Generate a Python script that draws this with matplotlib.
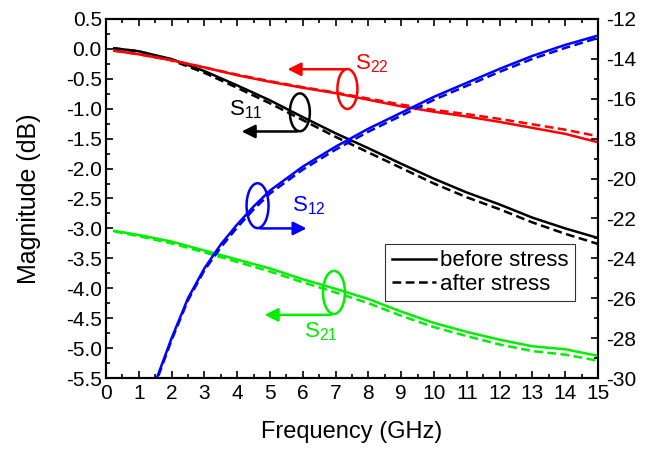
import matplotlib
matplotlib.use('Agg')
import matplotlib.pyplot as plt
from matplotlib.patches import Ellipse
from matplotlib.ticker import MultipleLocator, FormatStrFormatter

plt.rcParams['font.family'] = ['Liberation Sans', 'DejaVu Sans']
plt.rcParams['mathtext.fontset'] = 'custom'
plt.rcParams['mathtext.rm'] = 'Liberation Sans'
plt.rcParams['axes.unicode_minus'] = False

freq = [0.25, 1, 2, 3, 4, 5, 6, 7, 8, 9, 10, 11, 12, 13, 14, 15]
s11_before = [0.01, -0.04, -0.17, -0.37, -0.61, -0.86, -1.14, -1.41, -1.66, -1.92, -2.17, -2.40, -2.60, -2.82, -3.00, -3.16]
s11_after = [0.01, -0.04, -0.19, -0.40, -0.65, -0.91, -1.19, -1.47, -1.73, -1.99, -2.25, -2.48, -2.68, -2.90, -3.09, -3.26]
s22_before = [-0.03, -0.09, -0.19, -0.31, -0.44, -0.55, -0.65, -0.74, -0.85, -0.96, -1.05, -1.13, -1.22, -1.32, -1.42, -1.56]
s22_after = [-0.03, -0.09, -0.19, -0.31, -0.43, -0.54, -0.64, -0.73, -0.83, -0.93, -1.02, -1.09, -1.17, -1.26, -1.35, -1.46]
s21_before = [-3.04, -3.11, -3.22, -3.37, -3.52, -3.67, -3.85, -4.01, -4.18, -4.39, -4.58, -4.73, -4.86, -4.97, -5.02, -5.13]
s21_after = [-3.05, -3.13, -3.25, -3.40, -3.56, -3.72, -3.90, -4.07, -4.25, -4.46, -4.65, -4.80, -4.94, -5.05, -5.11, -5.21]

# S12 is on the right axis
freq_b = [1.45, 1.55, 2, 2.5, 3, 3.5, 4, 4.5, 5, 6, 7, 8, 9, 10, 11, 12, 13, 14, 15]
s12_before = [-30.4, -30.0, -28.0, -26.0, -24.5, -23.3, -22.3, -21.4, -20.6, -19.4, -18.4, -17.5, -16.7, -15.9, -15.2, -14.5, -13.85, -13.3, -12.83]
s12_after = [-30.5, -30.1, -28.1, -26.1, -24.6, -23.45, -22.45, -21.55, -20.75, -19.55, -18.55, -17.65, -16.85, -16.05, -15.35, -14.65, -14.0, -13.45, -12.95]

red = '#ff0000'
green = '#00ee00'
blue = '#0000ff'
lw = 1.8
dash = (0, (3.5, 1.8))

fig = plt.figure(figsize=(6.56, 4.5), dpi=100)
ax = fig.add_axes([0.1616, 0.16, 0.75, 0.7978])
ax2 = ax.twinx()

ax.plot(freq, s11_before, color='black', lw=lw)
ax.plot(freq, s11_after, color='black', lw=lw, ls=dash)
ax.plot(freq, s22_before, color=red, lw=lw)
ax.plot(freq, s22_after, color=red, lw=lw, ls=dash)
ax.plot(freq, s21_before, color=green, lw=lw)
ax.plot(freq, s21_after, color=green, lw=lw, ls=dash)
ax2.plot(freq_b, s12_before, color=blue, lw=lw)
ax2.plot(freq_b, s12_after, color=blue, lw=lw, ls=dash)

ax.set_xlim(0, 15)
ax.set_ylim(-5.5, 0.5)
ax2.set_ylim(-30, -12)

ax.xaxis.set_major_locator(MultipleLocator(1))
ax.xaxis.set_minor_locator(MultipleLocator(0.5))
ax.yaxis.set_major_locator(MultipleLocator(0.5))
ax.yaxis.set_minor_locator(MultipleLocator(0.25))
ax.yaxis.set_major_formatter(FormatStrFormatter('%.1f'))
ax2.yaxis.set_major_locator(MultipleLocator(2))
ax2.yaxis.set_minor_locator(MultipleLocator(1))

ax.tick_params(which='both', direction='in', top=True, labelsize=15, width=1.2)
ax.tick_params(which='major', length=5, pad=3)
ax.tick_params(axis='x', which='major', pad=4)
ax.tick_params(which='minor', length=3)
ax2.tick_params(which='both', direction='in', labelsize=15, width=1.2)
ax2.tick_params(which='major', length=5, pad=6)
ax2.tick_params(which='minor', length=3)
for a in (ax, ax2):
    for sp in a.spines.values():
        sp.set_linewidth(1.5)

ax.set_xlabel('Frequency (GHz)', fontsize=17, labelpad=13)
ax.set_ylabel('Magnitude (dB)', fontsize=18, labelpad=18)

# legend
h1, = ax.plot([], [], color='black', lw=lw, label='before stress')
h2, = ax.plot([], [], color='black', lw=lw, ls=dash, label='after stress')
leg = ax.legend(handles=[h1, h2], loc='upper left', bbox_to_anchor=(0.545, 0.405),
                fontsize=16, frameon=True, fancybox=False, edgecolor='black',
                handlelength=2.0, handletextpad=0.15, borderpad=0.3, labelspacing=0.1)
leg.get_frame().set_linewidth(0.8)

# ellipse + arrow labels
def marker(x, y, w, h, ax_y, x_end, col, label, lx, ly):
    ax.add_patch(Ellipse((x, y), w, h, fill=False, edgecolor=col, lw=1.8, zorder=5))
    ax.annotate('', xy=(x_end, ax_y), xytext=(x, ax_y),
                arrowprops=dict(arrowstyle='-|>', color=col, lw=1.8, mutation_scale=20))
    ax.text(lx, ly, label, color=col, fontsize=16, va='center', ha='left')

marker(7.36, -0.67, 0.61, 0.667, -0.34, 5.45, red, r'S$_{\mathrm{22}}$', 7.59, -0.25)
marker(5.91, -1.06, 0.61, 0.633, -1.38, 4.05, 'black', r'S$_{\mathrm{11}}$', 3.75, -1.02)
marker(4.62, -2.62, 0.67, 0.75, -3.0, 6.2, blue, r'S$_{\mathrm{12}}$', 5.66, -2.62)
marker(6.95, -4.07, 0.67, 0.72, -4.445, 4.75, green, r'S$_{\mathrm{21}}$', 6.04, -4.72)

fig.savefig('out.png', dpi=100)
